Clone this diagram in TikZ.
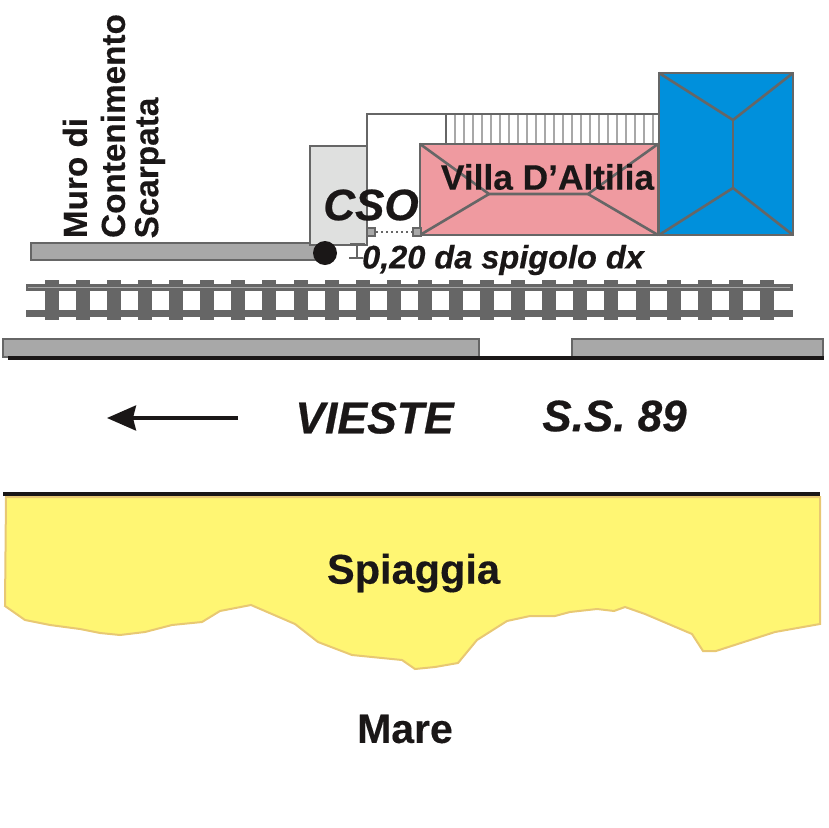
\documentclass[tikz,border=0pt]{standalone}
\usepackage{fontspec}
\setmainfont{Liberation Sans}[BoldFeatures={FakeBold=0.3},BoldItalicFeatures={FakeBold=0.5}]
\usetikzlibrary{arrows.meta}
\definecolor{roofline}{HTML}{666666}
\definecolor{wallgray}{HTML}{A8A8A8}
\definecolor{csogray}{HTML}{DFE0DF}
\definecolor{villapink}{HTML}{EF9AA0}
\definecolor{towerblue}{HTML}{0090DC}
\definecolor{sandyellow}{HTML}{FFF673}
\definecolor{sandline}{HTML}{E8C873}
\definecolor{inkblack}{HTML}{1A1717}
\tikzset{
  outline/.style={draw=roofline, line width=2.6pt},
  label/.style={inner sep=0pt, text=inkblack, font=\bfseries\fontsize{#1}{#1}\selectfont},
  labelit/.style={inner sep=0pt, text=inkblack, font=\bfseries\itshape\fontsize{#1}{#1}\selectfont},
  road/.style={draw=inkblack, line width=4pt},
}
\newcommand{\sleeper}[1]{\fill[roofline] (#1 , 280) rectangle (#1 + 14 , 320);}
\newcommand{\rail}[1]{\fill[roofline] (26 , #1 - 3.5) rectangle (793 , #1 + 3.5);}
\newcommand{\slat}[1]{\draw[wallgray, line width=2pt] (#1 , 114) -- (#1 , 144);}
\begin{document}
\begin{tikzpicture}[x=1pt, y=-1pt]
        \useasboundingbox (0,0) rectangle (828,828);
        % wall and barrier
        \filldraw[fill=wallgray, outline] (31,243) rectangle (316,260);
        \filldraw[fill=wallgray, outline] (3,339) rectangle (479,357);
        \filldraw[fill=wallgray, outline] (572,339) rectangle (823,357);
        % track
        \sleeper{45} \sleeper{76} \sleeper{107} \sleeper{138} \sleeper{169} \sleeper{200}
        \sleeper{231} \sleeper{262} \sleeper{294} \sleeper{325} \sleeper{356} \sleeper{387}
        \sleeper{418} \sleeper{449} \sleeper{480} \sleeper{511} \sleeper{542} \sleeper{573}
        \sleeper{604} \sleeper{636} \sleeper{667} \sleeper{698} \sleeper{729} \sleeper{760}
        \rail{287}
        \rail{313}
        \draw[wallgray, line width=1pt] (28,287) -- (790,287);
        % road
        \draw[road] (8,358) -- (824,358);
        \draw[road] (3,494) -- (820,494);
        % beach
        \filldraw[fill=sandyellow, draw=sandline, line width=2pt] (6,497) -- (820,497) -- (820,624) -- (775,632)
          -- (716,651) -- (703,651) -- (692,634) -- (645,614) -- (625,607) -- (614,611) -- (597,609)
          -- (570,612) -- (555,616) -- (530,616) -- (507,621) -- (477,640) -- (458,663) -- (435,667)
          -- (415,669) -- (402,660) -- (352,655) -- (318,642) -- (295,624) -- (251,605) -- (220,611)
          -- (202,622) -- (172,625) -- (145,632) -- (120,635) -- (100,633) -- (80,629) -- (50,625)
          -- (25,620) -- (5,606) -- cycle;
        % veranda
        \slat{455} \slat{464} \slat{473} \slat{482} \slat{491} \slat{500} \slat{509} \slat{518}
        \slat{527} \slat{536} \slat{545} \slat{554} \slat{563} \slat{572} \slat{581} \slat{590}
        \slat{599} \slat{608} \slat{617} \slat{626} \slat{635} \slat{644} \slat{653}
        \draw[outline] (367,146) -- (367,114) -- (658,114);
        \draw[outline] (446,114) -- (446,144);
        % villa
        \filldraw[fill=villapink, outline] (420,144) rectangle (658,235);
        \draw[outline] (420,144) -- (489,194) -- (588,194) -- (658,144);
        \draw[outline] (420,235) -- (489,194);
        \draw[outline] (658,235) -- (588,194);
        % blue building
        \filldraw[fill=towerblue, outline] (659,73) rectangle (793,235);
        \draw[outline] (659,73) -- (733,120) -- (793,73);
        \draw[outline] (659,235) -- (733,188) -- (793,235);
        \draw[outline] (733,120) -- (733,188);
        % cso
        \filldraw[fill=csogray, outline] (310,146) rectangle (367,245);
        \fill[inkblack] (325,253) circle (12);
        \filldraw[fill=wallgray, draw=roofline, line width=1.5pt] (367,228) rectangle (375,236);
        \filldraw[fill=wallgray, draw=roofline, line width=1.5pt] (413,228) rectangle (421,236);
        \draw[roofline, line width=1.5pt, dash pattern=on 2pt off 3pt] (376,232) -- (412,232);
        \draw[roofline, line width=1.5pt] (350,244) -- (365,244);
        \draw[roofline, line width=1.5pt] (357,244) -- (357,258);
        \draw[roofline, line width=1.5pt] (349,258) -- (363,258);
        % text
        \node[labelit=44] (cso) at (371,205) {CSO};
        \node[label=35.3] (villa) at (547.5,177) {Villa D’Altilia};
        \node[labelit=32.5] (dist) at (503,260) {0,20 da spigolo dx};
        \node[label=33.3, rotate=90] (muro1) at (75,178) {Muro di};
        \node[label=33.3, rotate=90] (muro2) at (113,126) {Contenimento};
        \node[label=33.3, rotate=90] (muro3) at (150,168) {Scarpata};
        \node[labelit=44.5] (vieste) at (374.5,418) {VIESTE};
        \node[labelit=44] (ss) at (614.5,416) {S.S. 89};
        \node[label=41.5] (spiaggia) at (413.5,573) {Spiaggia};
        \node[label=41] (mare) at (405,729) {Mare};
        % arrow
        \coordinate (arrowstart) at (238,418);
        \coordinate (arrowend) at (107,418);
        \draw[draw=inkblack, line width=3.2pt, -{Stealth[length=29pt, width=25pt, inset=3pt]}] (arrowstart) -- (arrowend);
\end{tikzpicture}
\end{document}
